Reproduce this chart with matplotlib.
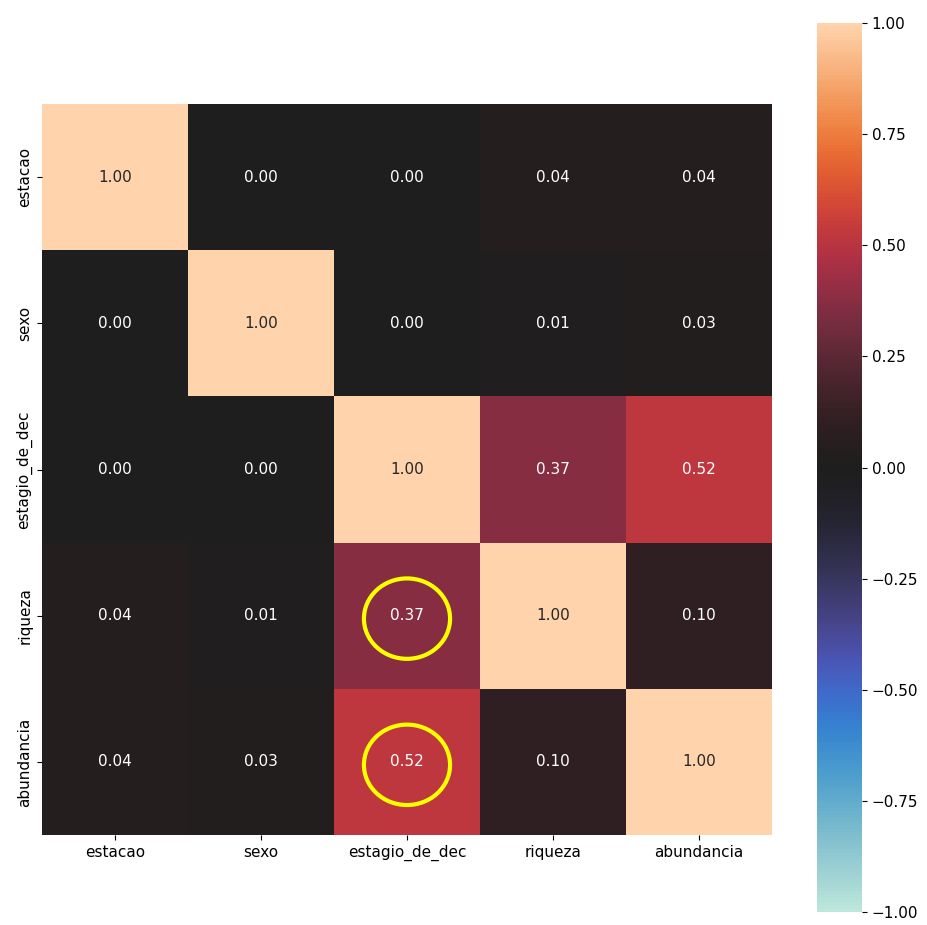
import numpy as np
import pandas as pd
import seaborn as sns
import matplotlib.pyplot as plt
from matplotlib.patches import Ellipse

labels = ["estacao", "sexo", "estagio_de_dec", "riqueza", "abundancia"]
estacao = [1.00, 0.00, 0.00, 0.04, 0.04]
sexo = [0.00, 1.00, 0.00, 0.01, 0.03]
estagio_de_dec = [0.00, 0.00, 1.00, 0.37, 0.52]
riqueza = [0.04, 0.01, 0.37, 1.00, 0.10]
abundancia = [0.04, 0.03, 0.52, 0.10, 1.00]

# cells circled in yellow (row, col)
highlight = [("riqueza", "estagio_de_dec"), ("abundancia", "estagio_de_dec")]

corr = pd.DataFrame(
    [estacao, sexo, estagio_de_dec, riqueza, abundancia],
    index=labels, columns=labels
)

fig = plt.figure(figsize=(9.28, 9.25), dpi=100)
ax = fig.add_axes([42/928, 90/925, 730/928, 731/925])
cax = fig.add_axes([817/928, 13/925, 45/928, 889/925])

sns.heatmap(
    corr, ax=ax, cbar_ax=cax, cmap="icefire", center=0, vmin=-1, vmax=1,
    annot=True, fmt=".2f", annot_kws={"fontsize": 11}
)
ax.set_aspect("auto")
ax.tick_params(axis="both", labelsize=11)
ax.set_yticklabels(labels, rotation=90, va="center")
ax.set_xticklabels(labels, rotation=0)
cax.tick_params(labelsize=11)
cax.set_yticks([-1, -0.75, -0.5, -0.25, 0, 0.25, 0.5, 0.75, 1])
cax.set_yticklabels(["\u22121.00", "\u22120.75", "\u22120.50", "\u22120.25",
                     "0.00", "0.25", "0.50", "0.75", "1.00"])

for r, c in highlight:
    i = labels.index(r)
    j = labels.index(c)
    ax.add_patch(Ellipse((j + 0.5, i + 0.52), 0.59, 0.55, fill=False,
                         edgecolor="#ffff00", linewidth=3, zorder=5))

fig.savefig("out.png", dpi=100)
